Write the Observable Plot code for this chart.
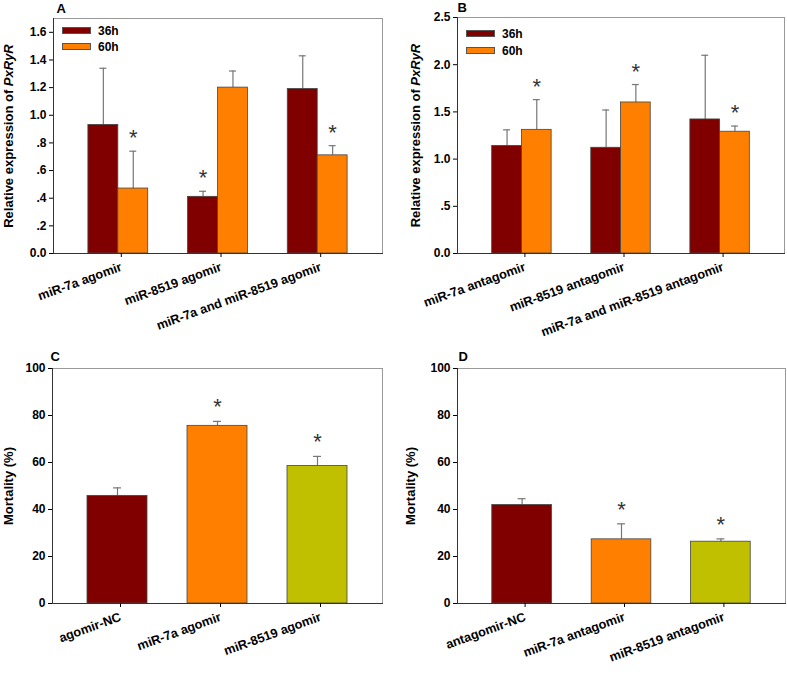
<!DOCTYPE html>
<html><head><meta charset="utf-8">
<script src="https://cdn.jsdelivr.net/npm/d3@7"></script>
<script src="https://cdn.jsdelivr.net/npm/@observablehq/plot@0.6"></script>
<style>
body{margin:0;background:#fff;}
#fig{position:relative;width:787px;height:681px;overflow:hidden;font-family:"Liberation Sans",Arial,sans-serif;}
.panel{position:absolute;}
.leg{position:absolute;font:bold 12px "Liberation Sans",Arial,sans-serif;color:#000;}
.leg .row{height:16px;line-height:16px;white-space:nowrap;}
.leg .sw{display:inline-block;width:27px;height:5px;border:1px solid #555;vertical-align:middle;margin-right:7px;position:relative;top:-1px;}
</style></head><body><div id="fig"></div>
<script>
// ---------- data ----------
const timeSeries = ["36h", "60h"];
const timeColors = ["#800000", "#ff8000"];

// Panel A (agomir, relative expression)
const agomirGroups = ["miR-7a agomir", "miR-8519 agomir", "miR-7a and miR-8519 agomir"];
const agomir36Mean = [0.93, 0.41, 1.19];
const agomir36Err  = [0.41, 0.04, 0.24];
const agomir36Sig  = [false, true, false];
const agomir60Mean = [0.47, 1.20, 0.71];
const agomir60Err  = [0.27, 0.12, 0.07];
const agomir60Sig  = [true, false, true];
const agomirYTicks = [0, 0.2, 0.4, 0.6, 0.8, 1.0, 1.2, 1.4, 1.6];
const agomirYTickLabels = ["0.0", ".2", ".4", ".6", ".8", "1.0", "1.2", "1.4", "1.6"];
const agomirYMax = 1.7;

// Panel B (antagomir, relative expression)
const antagomirGroups = ["miR-7a antagomir", "miR-8519 antagomir", "miR-7a and miR-8519 antagomir"];
const antagomir36Mean = [1.14, 1.12, 1.42];
const antagomir36Err  = [0.17, 0.40, 0.68];
const antagomir36Sig  = [false, false, false];
const antagomir60Mean = [1.31, 1.60, 1.29];
const antagomir60Err  = [0.32, 0.19, 0.06];
const antagomir60Sig  = [true, true, true];
const antagomirYTicks = [0, 0.5, 1.0, 1.5, 2.0, 2.5];
const antagomirYTickLabels = ["0.0", ".5", "1.0", "1.5", "2.0", "2.5"];
const antagomirYMax = 2.5;

// Panel C (mortality, agomir)
const mortAgoCats = ["agomir-NC", "miR-7a agomir", "miR-8519 agomir"];
const mortAgoMean = [45.8, 75.6, 58.5];
const mortAgoErr  = [3.4, 1.9, 4.1];
const mortAgoSig  = [false, true, true];

// Panel D (mortality, antagomir)
const mortAntCats = ["antagomir-NC", "miR-7a antagomir", "miR-8519 antagomir"];
const mortAntMean = [41.9, 27.3, 26.3];
const mortAntErr  = [2.7, 6.6, 1.2];
const mortAntSig  = [false, true, true];

const mortColors = ["#800000", "#ff8000", "#c0c000"];
const mortYTicks = [0, 20, 40, 60, 80, 100];
const mortYTickLabels = ["0", "20", "40", "60", "80", "100"];
const mortYMax = 100;

// ---------- styling ----------
const FONT = '"Liberation Sans", Arial, sans-serif';
const xDomain = [-0.65, 2.65];
const errColor = "#777";
const barStroke = "#444";
const starColor = "#333";

function baseMarks(o) {
  return [
    Plot.frame({stroke: "#999"}),
    Plot.frame({anchor: "left", stroke: "#333"}),
    Plot.frame({anchor: "bottom", stroke: "#333"}),
    Plot.axisY({ticks: o.yTicks, tickFormat: (d) => o.yTickLabels[o.yTicks.indexOf(d)],
      tickSize: 4, tickPadding: 3, fontSize: 12, fontWeight: "bold",
      label: "LABEL", labelAnchor: "center", labelArrow: "none", labelOffset: o.labelOffset}),
    Plot.axisX({ticks: [0, 1, 2], tickFormat: (i) => o.cats[i], tickRotate: -20,
      tickSize: 4, tickPadding: 9, dx: 3, fontSize: 12.7, fontWeight: "bold", label: null}),
    Plot.text([o.letter], {frameAnchor: "top-left", text: (d) => d, dx: o.letterDx, dy: o.letterDy,
      textAnchor: "start", lineAnchor: "middle", fontSize: 13, fontWeight: "bold"})
  ];
}

function patchLabel(svg, parts, size) {
  const t = svg.querySelector('[aria-label="y-axis label"] text');
  if (!t) return;
  t.textContent = "";
  t.setAttribute("font-size", size);
  for (const [txt, italic] of parts) {
    const ts = document.createElementNS("http://www.w3.org/2000/svg", "tspan");
    ts.textContent = txt;
    if (italic) ts.setAttribute("font-style", "italic");
    t.appendChild(ts);
  }
}

function expressionPanel(o) {
  const barW = 0.3;
  const rows = [];
  o.cats.forEach((c, i) => {
    rows.push({gi: i, si: 0, s: timeSeries[0], v: o.m36[i], e: o.e36[i], sig: o.s36[i]});
    rows.push({gi: i, si: 1, s: timeSeries[1], v: o.m60[i], e: o.e60[i], sig: o.s60[i]});
  });
  const cx = (d) => d.gi + (d.si - 0.5) * barW;
  const svg = Plot.plot({
    width: o.width, height: o.height,
    marginLeft: o.ml, marginRight: o.mr, marginTop: o.mt, marginBottom: o.mb,
    style: {fontFamily: FONT, color: "#000", background: "transparent"},
    x: {type: "linear", domain: xDomain},
    y: {domain: [0, o.yMax]},
    color: {domain: timeSeries, range: timeColors},
    marks: [
      Plot.ruleX(rows, {x: cx, y1: (d) => d.v, y2: (d) => d.v + d.e, stroke: errColor, strokeWidth: 1.2}),
      Plot.ruleY(rows, {y: (d) => d.v + d.e, x1: (d) => cx(d) - 0.035, x2: (d) => cx(d) + 0.035, stroke: errColor, strokeWidth: 1.2}),
      Plot.rect(rows, {x1: (d) => d.gi + (d.si - 1) * barW, x2: (d) => d.gi + d.si * barW,
        y1: 0, y2: (d) => d.v, fill: "s", stroke: barStroke, strokeWidth: 0.8}),
      Plot.text(rows.filter((d) => d.sig), {x: cx, y: (d) => d.v + d.e, text: () => "*",
        dy: -13, fontSize: 22, fill: starColor, lineAnchor: "middle"}),
      ...baseMarks(o)
    ]
  });
  patchLabel(svg, [["Relative expression of ", false], ["PxRyR", true]], 13);
  return svg;
}

function mortalityPanel(o) {
  const barW = 0.6;
  const rows = o.cats.map((c, i) => ({gi: i, c, v: o.mean[i], e: o.err[i], sig: o.sig[i]}));
  const svg = Plot.plot({
    width: o.width, height: o.height,
    marginLeft: o.ml, marginRight: o.mr, marginTop: o.mt, marginBottom: o.mb,
    style: {fontFamily: FONT, color: "#000", background: "transparent"},
    x: {type: "linear", domain: xDomain},
    y: {domain: [0, o.yMax]},
    color: {domain: o.cats, range: mortColors},
    marks: [
      Plot.ruleX(rows, {x: "gi", y1: "v", y2: (d) => d.v + d.e, stroke: errColor, strokeWidth: 1.2}),
      Plot.ruleY(rows, {y: (d) => d.v + d.e, x1: (d) => d.gi - 0.04, x2: (d) => d.gi + 0.04, stroke: errColor, strokeWidth: 1.2}),
      Plot.rect(rows, {x1: (d) => d.gi - barW / 2, x2: (d) => d.gi + barW / 2,
        y1: 0, y2: "v", fill: "c", stroke: barStroke, strokeWidth: 0.8}),
      Plot.text(rows.filter((d) => d.sig), {x: "gi", y: (d) => d.v + d.e, text: () => "*",
        dy: -14, fontSize: 22, fill: starColor, lineAnchor: "middle"}),
      ...baseMarks(o)
    ]
  });
  patchLabel(svg, [["Mortality (%)", false]], 13);
  return svg;
}

function legend(left, top, rowH) {
  const div = document.createElement("div");
  div.className = "leg";
  div.style.left = left + "px";
  div.style.top = top + "px";
  timeSeries.forEach((s, i) => {
    const r = document.createElement("div");
    r.className = "row";
    r.style.height = rowH + "px";
    r.style.lineHeight = rowH + "px";
    const sw = document.createElement("span");
    sw.className = "sw";
    sw.style.background = timeColors[i];
    r.appendChild(sw);
    r.appendChild(document.createTextNode(s));
    div.appendChild(r);
  });
  return div;
}

function place(el, left, top) {
  const d = document.createElement("div");
  d.className = "panel";
  d.style.left = left + "px";
  d.style.top = top + "px";
  d.appendChild(el);
  document.getElementById("fig").appendChild(d);
}

place(expressionPanel({
  cats: agomirGroups, m36: agomir36Mean, e36: agomir36Err, s36: agomir36Sig,
  m60: agomir60Mean, e60: agomir60Err, s60: agomir60Sig,
  yMax: agomirYMax, yTicks: agomirYTicks, yTickLabels: agomirYTickLabels,
  width: 390, height: 340, ml: 53, mr: 8, mt: 18, mb: 87,
  letter: "A", letterDx: 3, letterDy: -10, labelOffset: 50
}), 0, 0);

place(expressionPanel({
  cats: antagomirGroups, m36: antagomir36Mean, e36: antagomir36Err, s36: antagomir36Sig,
  m60: antagomir60Mean, e60: antagomir60Err, s60: antagomir60Sig,
  yMax: antagomirYMax, yTicks: antagomirYTicks, yTickLabels: antagomirYTickLabels,
  width: 397, height: 340, ml: 67, mr: 3, mt: 17, mb: 87,
  letter: "B", letterDx: 0, letterDy: -10, labelOffset: 47
}), 390, 0);

place(mortalityPanel({
  cats: mortAgoCats, mean: mortAgoMean, err: mortAgoErr, sig: mortAgoSig,
  yMax: mortYMax, yTicks: mortYTicks, yTickLabels: mortYTickLabels,
  width: 390, height: 341, ml: 52, mr: 8, mt: 28, mb: 78,
  letter: "C", letterDx: -2, letterDy: -12, labelOffset: 49
}), 0, 340);

place(mortalityPanel({
  cats: mortAntCats, mean: mortAntMean, err: mortAntErr, sig: mortAntSig,
  yMax: mortYMax, yTicks: mortYTicks, yTickLabels: mortYTickLabels,
  width: 397, height: 341, ml: 67, mr: 2, mt: 28, mb: 78,
  letter: "D", letterDx: 1, letterDy: -12, labelOffset: 52
}), 390, 340);

const fig = document.getElementById("fig");
fig.appendChild(legend(62, 23, 16));
fig.appendChild(legend(466, 26, 17));
</script></body></html>
